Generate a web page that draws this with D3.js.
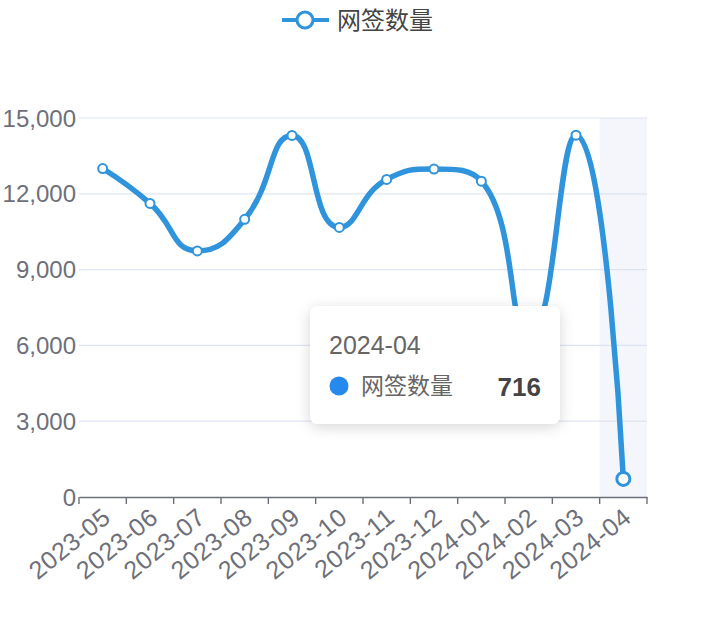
<!DOCTYPE html>
<html>
<head>
<meta charset="utf-8">
<script src="https://cdn.jsdelivr.net/npm/d3@7"></script>
<style>
  html, body { margin: 0; padding: 0; background: #fff; }
  svg { display: block; font-family: "Liberation Sans", "Noto Sans CJK SC", sans-serif; }
</style>
</head>
<body>
<svg id="chart" width="716" height="622"></svg>
<script>
// data
var months   = ["2023-05", "2023-06", "2023-07", "2023-08", "2023-09", "2023-10",
                "2023-11", "2023-12", "2024-01", "2024-02", "2024-03", "2024-04"]
var signings = [13000, 11620, 9740, 10990, 14310, 10670, 12570, 12980, 12500, 6300, 14320, 716]
var yTicks   = [0, 3000, 6000, 9000, 12000, 15000]
var seriesName = "网签数量"
var hoverIndex = 11

var lineColor = "#2f94dc"
  , axisColor = "#6e7079"
  , gridColor = "#e0e6f1"

var svg = d3.select("#chart")
  , plotLeft = 79, plotRight = 647, plotTop = 118, plotBottom = 497

var x = d3.scaleBand().domain(months).range([plotLeft, plotRight])
  , y = d3.scaleLinear().domain([0, 15000]).range([plotBottom, plotTop])

// echarts style smoothing (control points clamped between neighbours)
function smoothPath (pts, smooth) {
	var d = "M" + pts[0][0] + "," + pts[0][1]
	  , cp0x = pts[0][0], cp0y = pts[0][1]
	for (var i = 1; i < pts.length; i++) {
		var px = pts[i-1][0], py = pts[i-1][1]
		  , cx = pts[i][0],   cy = pts[i][1]
		  , cp1x, cp1y, ncx = cx, ncy = cy
		if (i == pts.length - 1) {
			cp1x = cx; cp1y = cy
		} else {
			var nx = pts[i+1][0], ny = pts[i+1][1]
			  , vx = nx - px, vy = ny - py
			  , lp = Math.hypot(cx - px, cy - py)
			  , ln = Math.hypot(nx - cx, ny - cy)
			  , r = ln / (ln + lp)
			ncx = cx + vx * smooth * r
			ncy = cy + vy * smooth * r
			ncx = Math.max(Math.min(ncx, Math.max(nx, cx)), Math.min(nx, cx))
			ncy = Math.max(Math.min(ncy, Math.max(ny, cy)), Math.min(ny, cy))
			cp1x = cx - (ncx - cx) * lp / ln
			cp1y = cy - (ncy - cy) * lp / ln
			cp1x = Math.max(Math.min(cp1x, Math.max(px, cx)), Math.min(px, cx))
			cp1y = Math.max(Math.min(cp1y, Math.max(py, cy)), Math.min(py, cy))
			ncx = cx + (cx - cp1x) * ln / lp
			ncy = cy + (cy - cp1y) * ln / lp
		}
		d += "C" + cp0x + "," + cp0y + "," + cp1x + "," + cp1y + "," + cx + "," + cy
		cp0x = ncx; cp0y = ncy
	}
	return d
}

// grid lines
svg.append("g").selectAll("line")
	.data(yTicks.filter(function (t) { return t > 0 }))
	.join("line")
	.attr("x1", plotLeft).attr("x2", plotRight)
	.attr("y1", function (t) { return y(t) }).attr("y2", function (t) { return y(t) })
	.attr("stroke", gridColor).attr("stroke-width", 1.2)

// hover shadow on the active category
svg.append("rect")
	.attr("x", x(months[hoverIndex])).attr("y", plotTop)
	.attr("width", x.bandwidth()).attr("height", plotBottom - plotTop)
	.attr("fill", "rgba(210,219,238,0.25)")

// y axis labels
svg.append("g").selectAll("text")
	.data(yTicks)
	.join("text")
	.attr("x", plotLeft - 3).attr("y", function (t) { return y(t) })
	.attr("dy", "0.36em")
	.attr("text-anchor", "end")
	.attr("fill", axisColor)
	.style("font-size", "24px")
	.text(function (t) { return d3.format(",")(t) })

// x axis
var xAxis = svg.append("g")
	.attr("transform", "translate(0," + plotBottom + ")")
	.call(d3.axisBottom(x).tickSize(0).tickFormat(""))
xAxis.select(".domain").attr("stroke", axisColor).attr("stroke-width", 1.6)
xAxis.selectAll(".tick").remove()

var bounds = months.map(function (m) { return x(m) }).concat([plotRight])
svg.append("g").selectAll("line")
	.data(bounds)
	.join("line")
	.attr("x1", function (b) { return b }).attr("x2", function (b) { return b })
	.attr("y1", plotBottom).attr("y2", plotBottom + 7)
	.attr("stroke", axisColor).attr("stroke-width", 1.4)

svg.append("g").selectAll("text")
	.data(months)
	.join("text")
	.attr("transform", function (m) {
		return "translate(" + (x(m) + x.bandwidth() / 2 + 4) + "," + (plotBottom + 16) + ") rotate(-39)"
	})
	.attr("dy", "0.36em")
	.attr("text-anchor", "end")
	.attr("fill", axisColor)
	.style("font-size", "25px")
	.style("letter-spacing", "0.6px")
	.text(function (m) { return m })

// series line
var pts = months.map(function (m, i) { return [x(m) + x.bandwidth() / 2, y(signings[i])] })

svg.append("path")
	.attr("d", smoothPath(pts, 0.5))
	.attr("fill", "none")
	.attr("stroke", lineColor)
	.attr("stroke-width", 5.5)
	.attr("stroke-linejoin", "round")

svg.append("g").selectAll("circle")
	.data(pts)
	.join("circle")
	.attr("cx", function (p) { return p[0] }).attr("cy", function (p) { return p[1] })
	.attr("r", function (p, i) { return i == hoverIndex ? 6.5 : 4.5 })
	.attr("fill", "#fff")
	.attr("stroke", lineColor)
	.attr("stroke-width", function (p, i) { return i == hoverIndex ? 3 : 2 })

// legend
var legend = svg.append("g")
legend.append("line")
	.attr("x1", 282).attr("x2", 329).attr("y1", 20).attr("y2", 20)
	.attr("stroke", lineColor).attr("stroke-width", 4)
legend.append("circle")
	.attr("cx", 305).attr("cy", 20).attr("r", 8)
	.attr("fill", "#fff").attr("stroke", lineColor).attr("stroke-width", 3)
legend.append("text")
	.attr("x", 337).attr("y", 20).attr("dy", "0.36em")
	.attr("fill", "#444")
	.style("font-size", "24px")
	.text(seriesName)

// tooltip
var defs = svg.append("defs")
defs.append("filter").attr("id", "tipShadow")
	.attr("x", "-20%").attr("y", "-30%").attr("width", "140%").attr("height", "160%")
	.append("feDropShadow")
	.attr("dx", 0).attr("dy", 3).attr("stdDeviation", 7)
	.attr("flood-color", "#000").attr("flood-opacity", 0.16)

var tip = svg.append("g").attr("transform", "translate(310,306)")
tip.append("rect")
	.attr("width", 250).attr("height", 118).attr("rx", 8)
	.attr("fill", "#fff").attr("filter", "url(#tipShadow)")
tip.append("text")
	.attr("x", 19).attr("y", 39).attr("dy", "0.36em")
	.attr("fill", "#666").style("font-size", "25px")
	.text(months[hoverIndex])
tip.append("circle")
	.attr("cx", 29).attr("cy", 80).attr("r", 9.5)
	.attr("fill", "#2589ee")
tip.append("text")
	.attr("x", 51).attr("y", 80).attr("dy", "0.36em")
	.attr("fill", "#666").style("font-size", "23px")
	.text(seriesName)
tip.append("text")
	.attr("x", 231).attr("y", 81).attr("dy", "0.36em")
	.attr("text-anchor", "end")
	.attr("fill", "#444").style("font-size", "26px").style("font-weight", "bold")
	.text(d3.format(",")(signings[hoverIndex]))
</script>
</body>
</html>
